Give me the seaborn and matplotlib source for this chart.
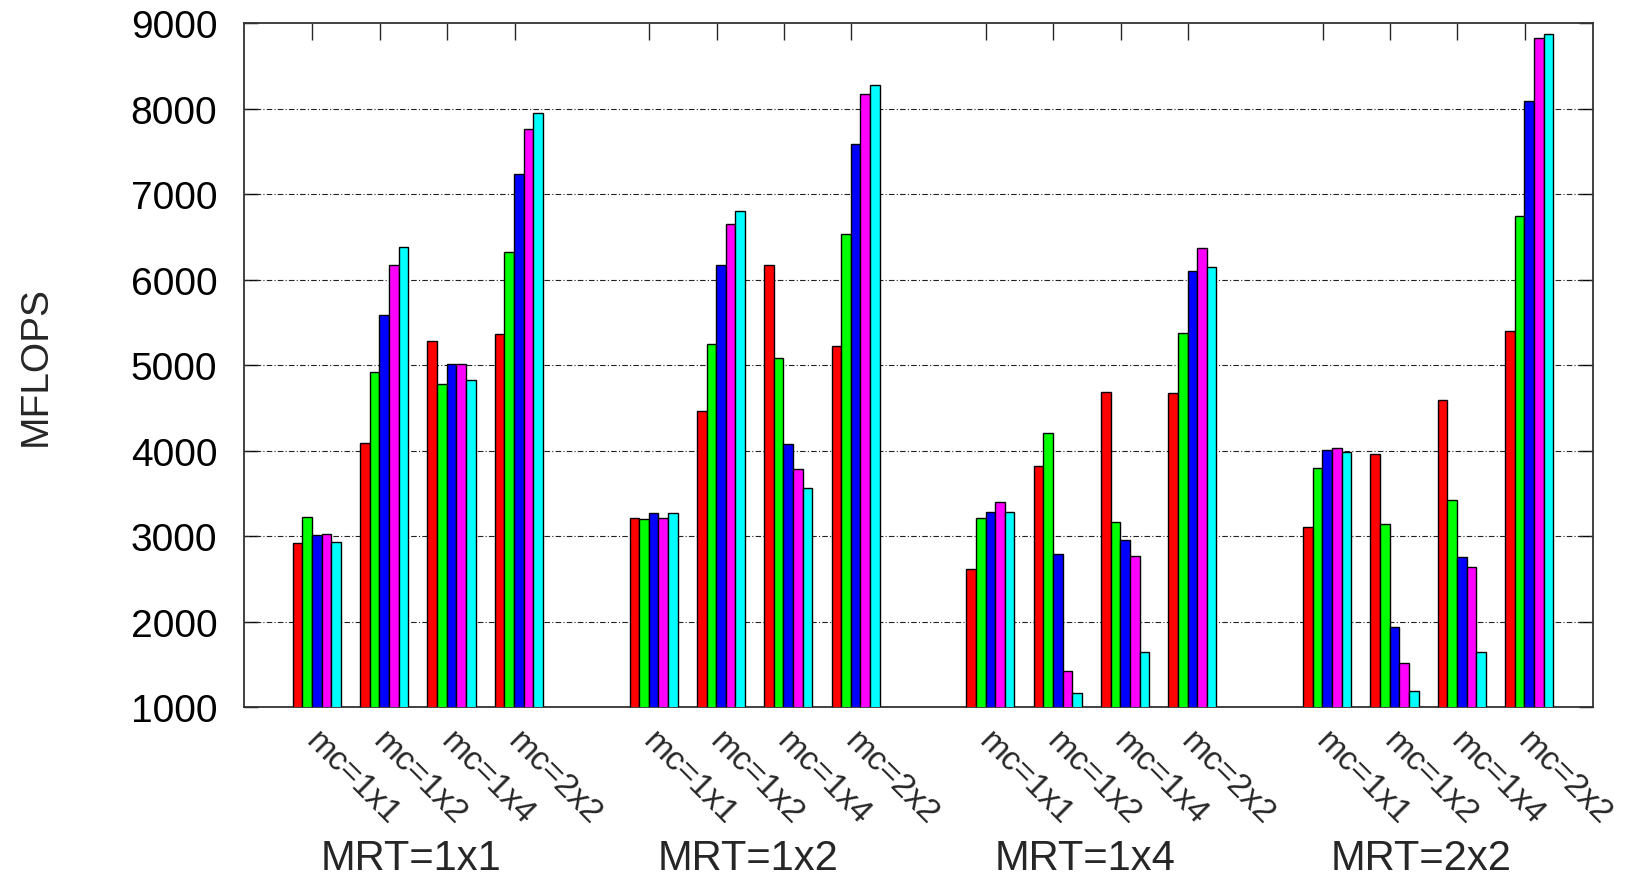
import matplotlib
matplotlib.use("Agg")
import matplotlib.pyplot as plt
import seaborn as sns
import pandas as pd
import numpy as np

# ---- data ----
mrt_groups = ["MRT=1x1", "MRT=1x2", "MRT=1x4", "MRT=2x2"]
mc_labels = ["mc=1x1", "mc=1x2", "mc=1x4", "mc=2x2"]
series_names = ["s1", "s2", "s3", "s4", "s5"]
series_colors = ["#ff0000", "#00ff00", "#0000ff", "#ff00ff", "#00ffff"]

red     = [2920, 4090, 5276, 5362, 3210, 4466, 6166, 5227, 2615, 3817, 4680, 4670, 3103, 3956, 4594, 5394]
green   = [3226, 4922, 4782, 6322, 3194, 5249, 5077, 6531, 3210, 4203, 3167, 5372, 3795, 3141, 3425, 6746]
blue    = [3017, 5582, 5013, 7239, 3269, 6166, 4079, 7583, 3285, 2792, 2958, 6102, 4004, 1933, 2749, 8092]
magenta = [3028, 6166, 5013, 7760, 3210, 6649, 3779, 8167, 3393, 1424, 2770, 6370, 4031, 1510, 2642, 8822]
cyan    = [2931, 6381, 4825, 7942, 3264, 6799, 3564, 8275, 3285, 1161, 1638, 6150, 3988, 1188, 1638, 8876]
series_values = [red, green, blue, magenta, cyan]

yticks = [1000, 2000, 3000, 4000, 5000, 6000, 7000, 8000, 9000]

# ---- long-form table ----
rows = []
for s, vals in zip(series_names, series_values):
    for g in range(len(mrt_groups)):
        for c in range(len(mc_labels)):
            pos = g * (len(mc_labels) + 1) + c
            rows.append({"pos": pos, "val": vals[g * len(mc_labels) + c], "series": s})
df = pd.DataFrame(rows)

sns.set_style("white")
plt.rcParams["font.family"] = ["Liberation Sans", "DejaVu Sans"]

fig = plt.figure(figsize=(16.25, 8.79), dpi=100)
ax = fig.add_axes([0.150, 0.1945, 0.830, 0.7782])

sns.barplot(data=df, x="pos", y="val", hue="series", hue_order=series_names,
            palette=series_colors, native_scale=True, dodge=True, width=5 / 7,
            errorbar=None, edgecolor="black", linewidth=1.0, saturation=1,
            legend=False, ax=ax, zorder=3)

ax.set_ylim(1000, 9000)
ax.set_xlim(-1.085, 18.94)
ax.set_yticks(yticks)
ax.set_yticklabels([str(v) for v in yticks])
ax.tick_params(axis="y", direction="in", length=10, width=1, left=True, right=True,
               labelsize=28, pad=19, colors="black")
cluster_pos = [g * (len(mc_labels) + 1) + c for g in range(len(mrt_groups)) for c in range(len(mc_labels))]
ax.set_xticks([p - 0.065 for p in cluster_pos])
ax.set_xticklabels([""] * len(cluster_pos))
ax.tick_params(axis="x", direction="in", length=12, width=1, bottom=False, top=True,
               labelbottom=False, labeltop=False)

ax.set_xlabel("")
ax.set_ylabel("MFLOPS", fontsize=28, va="center")
ax.yaxis.set_label_coords(-0.154, 0.5)

for yv in yticks[1:-1]:
    ax.axhline(yv, color="#222222", lw=0.8, ls=(0, (5, 2, 1, 2)), zorder=1)

for sp in ax.spines.values():
    sp.set_color("#333333")
    sp.set_linewidth(1.3)
    sp.set_visible(True)

# mc labels (rotated)
for i, p in enumerate(cluster_pos):
    ax.annotate(mc_labels[i % len(mc_labels)], xy=(p + 0.07, 0), xycoords=("data", "axes fraction"),
                xytext=(0, -13), textcoords="offset points", rotation=-45,
                rotation_mode="anchor", ha="left", va="top", fontsize=24,
                annotation_clip=False)

# group labels
for g, name in enumerate(mrt_groups):
    center = g * (len(mc_labels) + 1) + 1.5 - 0.1
    ax.annotate(name, xy=(center, 0.0102), xycoords=("data", "figure fraction"),
                ha="center", va="baseline", fontsize=30, annotation_clip=False)

fig.savefig("out.png", dpi=100)
